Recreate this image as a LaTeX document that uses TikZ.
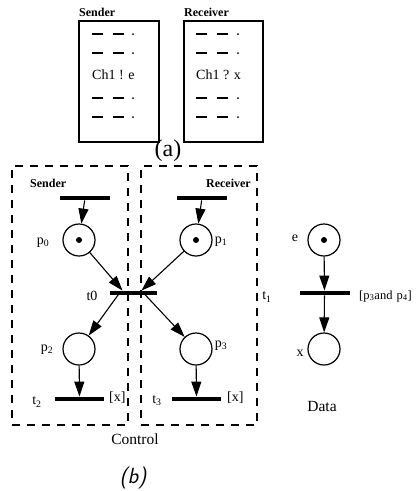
\documentclass[tikz,border=0pt]{standalone}
\usepackage{fontspec}
\setmainfont{Liberation Serif}
\usetikzlibrary{arrows.meta}
\begin{document}
\begin{tikzpicture}[x=1pt,y=-1pt,
  place/.style={circle,draw,line width=1.2pt,minimum size=32pt,inner sep=0pt},
  token/.style={circle,fill,inner sep=0pt,minimum size=6pt},
  bar/.style={rectangle,fill,inner sep=0pt,minimum height=4.5pt},
  arc/.style={line width=1.1pt,-{Triangle[length=15pt,width=10pt]}},
  region/.style={draw,line width=1.5pt,dash pattern=on 8pt off 7pt,inner sep=0pt},
  card/.style={draw,line width=1.5pt,inner sep=0pt},
  head/.style={font=\fontsize{12}{14}\selectfont\bfseries,inner sep=0pt},
  lbl/.style={font=\fontsize{14}{16}\selectfont,inner sep=0pt},
  stmt/.style={font=\fontsize{14}{16}\selectfont,inner sep=0pt},
  caption/.style={font=\fontsize{15.5}{18}\selectfont,inner sep=0pt},
  fig/.style={font=\fontsize{24}{27}\selectfont,inner sep=0pt},
  filler/.style={line width=1.1pt}
]
\useasboundingbox (0,0) rectangle (417,491);

% ---------- (a) the two processes as program text ----------
\node[card,minimum width=80pt,minimum height=121pt] (cardS) at (119,81.5) {};
\node[card,minimum width=79pt,minimum height=121pt] (cardR) at (223.5,81.5) {};
\node[head,anchor=west] (hS) at (79,12) {Sender};
\node[head,anchor=west] (hR) at (184,12) {Receiver};
\foreach \y in {34,53,98,117} {
  \draw[filler] (92,\y) -- (103,\y) (113,\y) -- (124,\y);
  \fill (133,\y) circle (1pt);
  \draw[filler] (196,\y) -- (207,\y) (217,\y) -- (228,\y);
  \fill (238,\y) circle (1pt);
}
\node[stmt,anchor=west] (sendst) at (92,75) {Ch1 ! e};
\node[stmt,anchor=west] (recvst) at (196,75) {Ch1 ? x};
\node[fig] (capa) at (168,151) {(a)};

% ---------- (b) control part ----------
\node[region,minimum width=116pt,minimum height=259pt] (boxS) at (70,295.5) {};
\node[region,minimum width=116pt,minimum height=259pt] (boxR) at (199,295.5) {};
\node[head,anchor=west] (bS) at (30,183) {Sender};
\node[head,anchor=east] (bR) at (251,183) {Receiver};

\node[bar,minimum width=50pt] (tS) at (85,198) {};
\node[bar,minimum width=50pt] (tR) at (202,198) {};
\node[place] (p0) at (79,240) {};
\node[token] at (p0) {};
\node[place] (p1) at (196,240) {};
\node[token] at (p1) {};
\node[bar,minimum width=47pt] (t0) at (133.5,293) {};
\node[place] (p2) at (79,349) {};
\node[place] (p3) at (196,349) {};
\node[bar,minimum width=49pt] (t2) at (79.5,399) {};
\node[bar,minimum width=49pt] (t3) at (196.5,399) {};

\node[lbl] (lp0) at (43,243) {p\textsubscript{0}};
\node[lbl] (lp1) at (221,242) {p\textsubscript{1}};
\node[lbl] (lp2) at (47,350) {p\textsubscript{2}};
\node[lbl] (lp3) at (221,346) {p\textsubscript{3}};
\node[lbl] (lt0) at (92,296) {t0};
\node[lbl] (lt2) at (37,402) {t\textsubscript{2}};
\node[lbl] (lt3) at (157,401) {t\textsubscript{3}};
\node[lbl] (lt1) at (267,297) {t\textsubscript{1}};
\node[lbl,anchor=west] (g2) at (109,398) {[x]};
\node[lbl,anchor=west] (g3) at (227,398) {[x]};

\draw[arc] (tS) -- (p0);
\draw[arc] (tR) -- (p1);
\draw[arc] (p0) -- ([xshift=-11pt]t0.north);
\draw[arc] (p1) -- ([xshift=8pt]t0.north);
\draw[arc] ([xshift=-14pt]t0.center) -- (p2);
\draw[arc] ([xshift=10pt]t0.center) -- (p3);
\draw[arc] (p2) -- (t2);
\draw[arc] (p3) -- (t3);

\node[caption] (ctl) at (135,439) {Control};
\node[fig,font=\fontsize{22}{25}\selectfont\sffamily\itshape] (capb) at (133,478) {(b)};

% ---------- (b) data part ----------
\node[place] (pe) at (324,240) {};
\node[token] at (pe) {};
\node[bar,minimum width=50pt] (t1) at (324.5,293) {};
\node[place] (px) at (324,349) {};
\node[lbl] (le) at (295,238) {e};
\node[lbl] (lx) at (300,353) {x};
\node[lbl,anchor=west,font=\fontsize{12.5}{15}\selectfont] (g1) at (359,296) {[p\textsubscript{3}and\hspace{4pt}p\textsubscript{4}]};
\draw[arc] (pe) -- (t1);
\draw[arc] (t1) -- (px);
\node[caption] (dat) at (322,406) {Data};
\end{tikzpicture}
\end{document}
